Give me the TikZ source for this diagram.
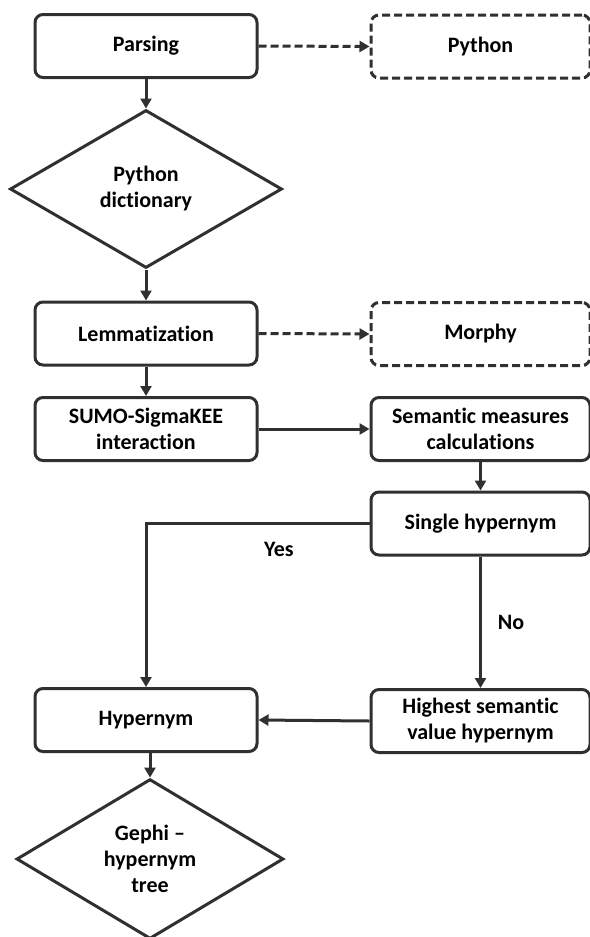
\documentclass[tikz,border=0pt]{standalone}
\usepackage{fontspec}
\setmainfont{Carlito}[Ligatures={NoCommon,NoRare}]
\usetikzlibrary{shapes.geometric,arrows.meta}
\definecolor{ink}{RGB}{48,48,48}
\begin{document}
\begin{tikzpicture}[x=1pt,y=-1pt,
  txt/.style={font=\fontsize{22}{26}\selectfont\bfseries,text=black,align=center},
  box/.style={txt,draw=ink,line width=3pt,rounded corners=8pt,minimum width=222pt,minimum height=63pt,inner sep=0pt},
  rbox/.style={box,minimum width=219pt},
  dbox/.style={rbox,dash pattern=on 8pt off 4pt},
  dia/.style={txt,draw=ink,line width=3pt,shape=diamond,inner sep=0pt},
  arr/.style={draw=ink,line width=3pt,-{Triangle[length=10pt,width=11pt]}},
  darr/.style={arr,dash pattern=on 8pt off 4pt}
]
\useasboundingbox (0,0) rectangle (589,937);
\node[box] (parsing) at (146,46) {Parsing};
\node[dbox] (python) at (480.5,46.5) {Python};
\node[dia,minimum width=272pt,minimum height=158pt] (dict) at (146,189) {Python\\dictionary};
\node[box] (lemma) at (146,333.5) {Lemmatization};
\node[dbox] (morphy) at (480.5,334) {Morphy};
\node[box] (sumo) at (146,429) {SUMO-SigmaKEE\\interaction};
\node[rbox] (semantic) at (480.5,429) {Semantic measures\\calculations};
\node[rbox] (single) at (480.5,523.5) {Single hypernym};
\node[rbox] (highest) at (480.5,721) {Highest semantic\\value hypernym};
\node[box] (hyper) at (146,720) {Hypernym};
\node[dia,minimum width=267pt,minimum height=158pt] (gephi) at (150,859) {Gephi --\\hypernym\\tree};
\node[txt] (yes) at (279,549) {Yes};
\node[txt] (no) at (511,622) {No};

\draw[darr] (parsing.east) -- (python.west);
\draw[darr] (lemma.east) -- (morphy.west);
\draw[arr] (parsing.south) -- (dict.north);
\draw[arr] (dict.south) -- (lemma.north);
\draw[arr] (lemma.south) -- (sumo.north);
\draw[arr] (sumo.east) -- (semantic.west);
\draw[arr] (semantic.south) -- (single.north);
\draw[arr] (single.west) -| (hyper.north);
\draw[arr] (single.south) -- (highest.north);
\draw[arr] (highest.west) -- (hyper.east);
\draw[arr] (hyper.south -| gephi.north) -- (gephi.north);
\end{tikzpicture}
\end{document}
